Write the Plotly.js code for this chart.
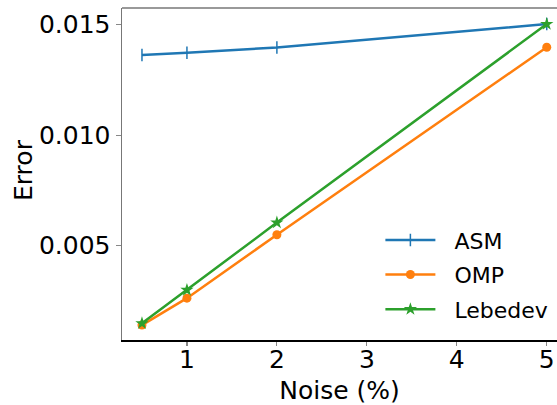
<!DOCTYPE html>
<html><head><meta charset="utf-8">
<script src="https://cdn.plot.ly/plotly-3.0.1.min.js"></script>
<style>html,body{margin:0;padding:0;background:#fff}#c{width:557px;height:405px}</style>
</head><body><div id="c"></div>
<script>
const noise = [0.5, 1, 2, 5];
const asm = [0.01363, 0.01373, 0.01397, 0.01503];
const omp = [0.00140, 0.00262, 0.00549, 0.01398];
const lebedev = [0.00148, 0.00299, 0.00604, 0.01503];
const xTicks = [1, 2, 3, 4, 5];
const yTicks = [0.005, 0.010, 0.015];
const yTickText = ['0.005', '0.010', '0.015'];
const seriesNames = ['ASM', 'OMP', 'Lebedev'];

const font = {family: 'DejaVu Sans', size: 25, color: '#000'};
const traces = [
  {x: noise, y: asm, name: '  ' + seriesNames[0], legendgroup: 'a', mode: 'lines+markers', line: {color: '#1f77b4', width: 2.5},
   marker: {symbol: 'line-ns', size: 9, line: {color: '#1f77b4', width: 1.5}, color: '#1f77b4'}},
  {x: noise, y: omp, name: '  ' + seriesNames[1], legendgroup: 'b', mode: 'lines+markers', line: {color: '#ff7f0e', width: 2.5},
   marker: {symbol: 'circle', size: 9, color: '#ff7f0e'}},
  {x: noise, y: lebedev, name: '  ' + seriesNames[2], legendgroup: 'c', mode: 'lines+markers', line: {color: '#2ca02c', width: 2.5},
   marker: {symbol: 'star', size: 10, color: '#2ca02c'}}
];
const layout = {
  width: 557, height: 405,
  margin: {l: 122, r: 0, t: 8, b: 65},
  paper_bgcolor: '#fff', plot_bgcolor: '#fff',
  font: font,
  showlegend: true,
  legend: {x: 0.594, y: 0.364, xanchor: 'left', yanchor: 'top', bgcolor: 'rgba(255,255,255,0)',
           font: {family: 'DejaVu Sans', size: 22, color: '#000'}, itemwidth: 50, tracegroupgap: 3},
  xaxis: {range: [0.278, 5.114], tickvals: xTicks, ticktext: xTicks.map(String),
          showgrid: false, zeroline: false, showline: true, linecolor: '#000', linewidth: 1.5,
          ticks: 'outside', ticklen: 4, tickcolor: '#888', tickwidth: 1.2, ticklabelstandoff: -8,
          tickfont: font, title: {text: 'Noise (%)', font: font, standoff: 10}},
  yaxis: {range: [0.000725, 0.015757], tickvals: yTicks, ticktext: yTickText,
          showgrid: false, zeroline: false, showline: true, linecolor: '#777', linewidth: 1.5,
          ticks: 'outside', ticklen: 5, tickcolor: '#888', tickwidth: 1.2,
          tickfont: font},
  annotations: [{text: 'Error', xref: 'paper', yref: 'paper', x: -0.2276, y: 0.512,
                 xanchor: 'center', yanchor: 'middle', textangle: -90, showarrow: false, font: font}],
  shapes: [{type: 'line', xref: 'paper', yref: 'paper', x0: 0, x1: 1, y0: 1, y1: 1,
            line: {color: '#777', width: 1.5}}]
};
Plotly.newPlot('c', traces, layout, {staticPlot: true});
</script></body></html>
